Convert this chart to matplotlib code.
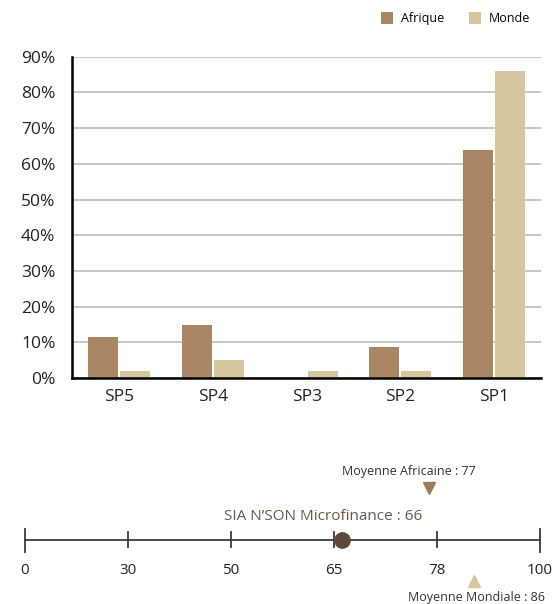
import numpy as np
import matplotlib.pyplot as plt

# bar chart data (percent)
categories = ["SP5", "SP4", "SP3", "SP2", "SP1"]
afrique = [11.5, 15, 0, 8.7, 64]
monde = [2, 5, 2, 2, 86]

# score scale data
scale_ticks = [0, 30, 50, 65, 78, 100]
score_company = 66
score_afrique = 77
score_monde = 86

col_afrique = "#A98563"
col_monde = "#D5C69E"
col_dot = "#5E4838"
col_line = "#3a3a3a"

plt.rcParams['font.family'] = ['Open Sans', 'DejaVu Sans']

fig = plt.figure(figsize=(5.55, 6.04), dpi=100)

################################################################################
# bar chart
ax = fig.add_axes([0.130, 0.374, 0.845, 0.532])
x = np.arange(len(categories))
w = 0.32
ax.bar(x - 0.17, afrique, w, color=col_afrique, label="Afrique", zorder=3)
ax.bar(x + 0.17, monde, w, color=col_monde, label="Monde", zorder=3)

ax.set_xlim(-0.5, len(categories) - 0.5)
ax.set_ylim(0, 90)
ax.set_yticks(np.arange(0, 91, 10))
ax.set_yticklabels([f"{v}%" for v in range(0, 91, 10)], fontsize=12.5, color="#222222")
ax.set_xticks(x)
ax.set_xticklabels(categories, fontsize=12.5, color="#222222")
ax.tick_params(length=0, pad=8)
ax.tick_params(axis='y', pad=12)
ax.grid(axis='y', color="#b8b8b8", linewidth=1.1, zorder=0)
for s in ['top', 'right']:
    ax.spines[s].set_visible(False)
for s in ['left', 'bottom']:
    ax.spines[s].set_color("black")
    ax.spines[s].set_linewidth(1.8)
    ax.spines[s].set_zorder(4)

ax.legend(loc='center right', bbox_to_anchor=(0.977, 1.118), ncol=2, frameon=False,
          fontsize=9, handlelength=1.0, handleheight=1.0, columnspacing=2.0,
          handletextpad=0.6, borderaxespad=0, borderpad=0)

################################################################################
# score scale
ax2 = fig.add_axes([0, 0, 1, 154 / 604])
ax2.set_xlim(-25 / 103, 5 + 15 / 103)
ax2.set_ylim(154, 0)
ax2.axis("off")

tick_pos = np.arange(len(scale_ticks))


def to_pos(v):
    return np.interp(v, scale_ticks, tick_pos)


ax2.plot([tick_pos[0], tick_pos[-1]], [90, 90], color=col_line, linewidth=1.3)
for i, t in enumerate(scale_ticks):
    if i in (0, len(scale_ticks) - 1):
        y0, y1 = 79, 102
    else:
        y0, y1 = 82, 97
    ax2.plot([tick_pos[i], tick_pos[i]], [y0, y1], color=col_line, linewidth=1.3)
    ax2.text(tick_pos[i], 120, str(t), ha='center', va='center', fontsize=11, color="#222222")

pc = to_pos(score_company)
ax2.plot(pc, 90, 'o', color=col_dot, markersize=11, zorder=5)
ax2.text(pc - 0.18, 67, f"SIA N\u2019SON Microfinance : {score_company}", ha='center', va='center',
         fontsize=11, color="#6E5848")

pa = to_pos(score_afrique)
ax2.plot(pa, 38, 'v', color="#9E7A57", markersize=9)
ax2.text(pa - 0.2, 22, f"Moyenne Africaine : {score_afrique}", ha='center', va='center',
         fontsize=9, color="#333333")

pm = to_pos(score_monde)
ax2.plot(pm, 131, '^', color=col_monde, markersize=9)
ax2.text(pm + 0.02, 148, f"Moyenne Mondiale : {score_monde}", ha='center', va='center',
         fontsize=9, color="#333333")

fig.savefig("out.png", dpi=100)
